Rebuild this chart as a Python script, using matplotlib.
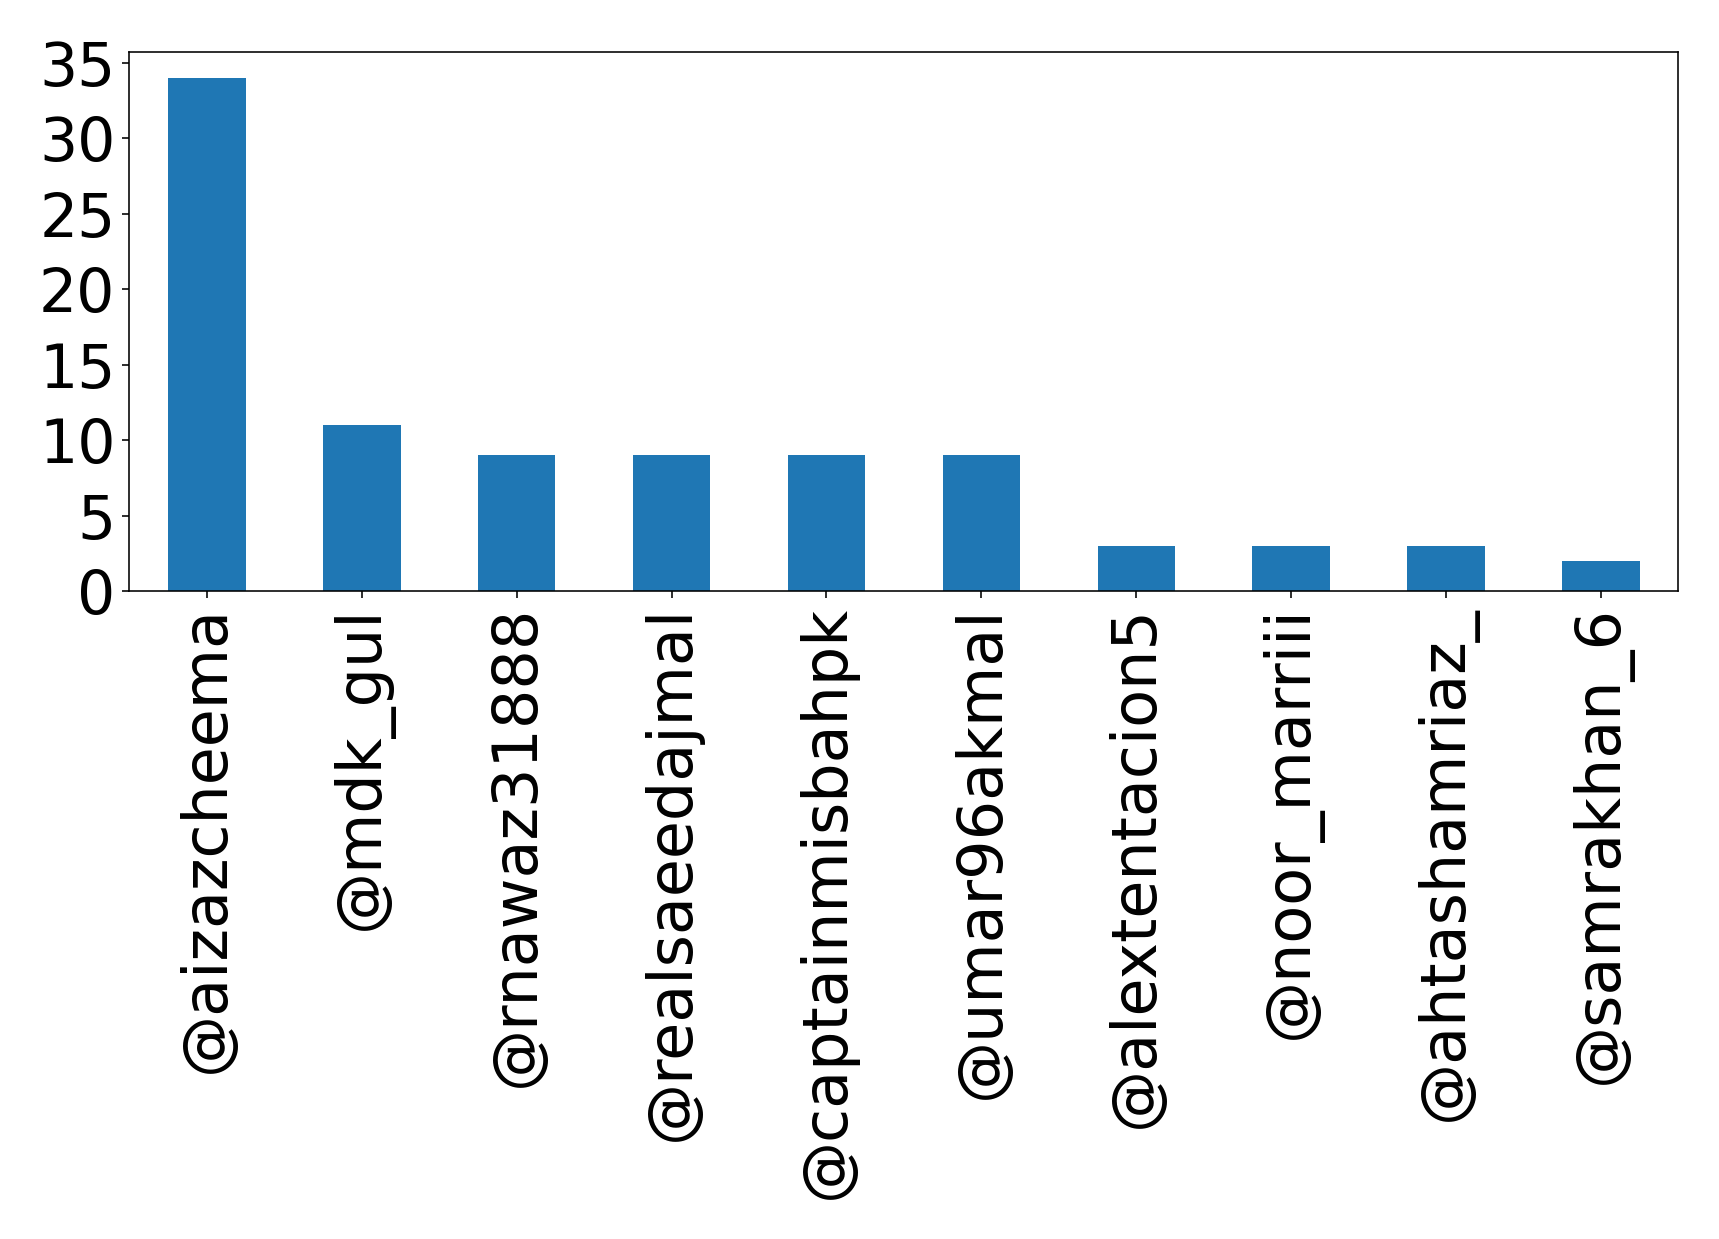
import matplotlib
matplotlib.use("Agg")
import matplotlib.pyplot as plt

# mention counts per user
users = ['@aizazcheema', '@mdk_gul', '@rnawaz31888', '@realsaeedajmal',
         '@captainmisbahpk', '@umar96akmal', '@alextentacion5', '@noor_marriii',
         '@ahtashamriaz_', '@samrakhan_6']
counts = [34, 11, 9, 9, 9, 9, 3, 3, 3, 2]
yticks = [0, 5, 10, 15, 20, 25, 30, 35]

fig = plt.figure(figsize=(1719 / 144, 1239 / 144), dpi=144)
ax = fig.add_axes([0.0753, 0.523, 0.9011, 0.435])

pos = range(len(users))
ax.bar(pos, counts, width=0.5, color='#1f77b4')
ax.set_xlim(-0.5, len(users) - 0.5)
ax.set_xticks(list(pos))
ax.set_xticklabels(users, rotation=90, fontsize=31)
ax.set_yticks(yticks)
ax.tick_params(axis='y', labelsize=30)

fig.savefig('out.png', dpi=144)
